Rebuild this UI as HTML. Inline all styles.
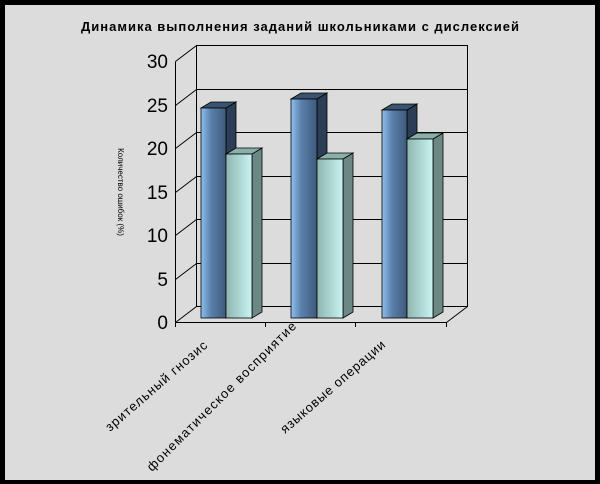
<!DOCTYPE html>
<html><head><meta charset="utf-8"><style>
html,body{margin:0;padding:0;background:#000;}
svg{display:block;}
text{font-family:"Liberation Sans","DejaVu Sans",sans-serif;}
</style></head><body>
<svg width="600" height="484" viewBox="0 0 600 484" xmlns="http://www.w3.org/2000/svg">
<defs>
<linearGradient id="dk" x1="0" y1="0" x2="1" y2="0">
<stop offset="0" stop-color="#8fc0f0"/><stop offset="0.4" stop-color="#5a80aa"/><stop offset="1" stop-color="#3d5a7c"/>
</linearGradient>
<linearGradient id="lt" x1="0" y1="0" x2="1" y2="0">
<stop offset="0" stop-color="#8fb5b0"/><stop offset="1" stop-color="#c8f4f2"/>
</linearGradient>
</defs>
<rect x="5" y="5" width="590" height="475" fill="#dcdcdc"/>
<text x="300" y="31" font-size="13" font-weight="bold" text-anchor="middle" textLength="438" lengthAdjust="spacing">Динамика выполнения заданий школьниками с дислексией</text>
<g stroke="#000" stroke-width="1" fill="none">
<rect x="196.5" y="45.5" width="271" height="261"/>
<line x1="196.5" y1="89.5" x2="467.5" y2="89.5"/>
<line x1="196.5" y1="132.5" x2="467.5" y2="132.5"/>
<line x1="196.5" y1="176.5" x2="467.5" y2="176.5"/>
<line x1="196.5" y1="219.5" x2="467.5" y2="219.5"/>
<line x1="196.5" y1="263.5" x2="467.5" y2="263.5"/>
<line x1="175.5" y1="61.5" x2="196.5" y2="45.5"/>
<line x1="175.5" y1="105.5" x2="196.5" y2="89.5"/>
<line x1="175.5" y1="148.5" x2="196.5" y2="132.5"/>
<line x1="175.5" y1="192.5" x2="196.5" y2="176.5"/>
<line x1="175.5" y1="235.5" x2="196.5" y2="219.5"/>
<line x1="175.5" y1="279.5" x2="196.5" y2="263.5"/>
<line x1="175.5" y1="322.5" x2="196.5" y2="306.5"/>
<line x1="446.5" y1="322.5" x2="467.5" y2="306.5"/>
<line x1="175.5" y1="61.5" x2="175.5" y2="322.5"/>
<line x1="175.5" y1="322.5" x2="446.5" y2="322.5"/>
<line x1="175.5" y1="322.5" x2="175.5" y2="327"/>
<line x1="265.5" y1="322.5" x2="265.5" y2="327"/>
<line x1="355.5" y1="322.5" x2="355.5" y2="327"/>
<line x1="446.5" y1="322.5" x2="446.5" y2="327"/>
</g>
<g font-size="19" text-anchor="end">
<text x="168" y="68">30</text><text x="168" y="112">25</text><text x="168" y="155">20</text>
<text x="168" y="199">15</text><text x="168" y="242">10</text><text x="168" y="286">5</text><text x="168" y="329">0</text>
</g>
<text transform="translate(118,192) rotate(90)" font-size="8" text-anchor="middle">Количество ошибок (%)</text>
<g stroke="#000" stroke-width="0.8">
<polygon points="226,108 236,102 236,312 226,318" fill="#2c3e55"/>
<polygon points="201,108 211,102 236,102 226,108" fill="#3a5370"/>
<rect x="201" y="108" width="25" height="210" fill="url(#dk)"/>
<polygon points="252,154 262,148 262,312 252,318" fill="#6c8884"/>
<polygon points="226,154 236,148 262,148 252,154" fill="#8ab0ac"/>
<rect x="226" y="154" width="26" height="164" fill="url(#lt)"/>
<polygon points="317,99 327,93 327,312 317,318" fill="#2c3e55"/>
<polygon points="291,99 301,93 327,93 317,99" fill="#3a5370"/>
<rect x="291" y="99" width="26" height="219" fill="url(#dk)"/>
<polygon points="343,159 353,153 353,312 343,318" fill="#6c8884"/>
<polygon points="317,159 327,153 353,153 343,159" fill="#8ab0ac"/>
<rect x="317" y="159" width="26" height="159" fill="url(#lt)"/>
<polygon points="407,110 417,104 417,312 407,318" fill="#2c3e55"/>
<polygon points="382,110 392,104 417,104 407,110" fill="#3a5370"/>
<rect x="382" y="110" width="25" height="208" fill="url(#dk)"/>
<polygon points="433,139 443,133 443,312 433,318" fill="#6c8884"/>
<polygon points="407,139 417,133 443,133 433,139" fill="#8ab0ac"/>
<rect x="407" y="139" width="26" height="179" fill="url(#lt)"/>
</g>
<g font-size="13">
<text transform="translate(110,432) rotate(-41)" textLength="130" lengthAdjust="spacing">зрительный гнозис</text>
<text transform="translate(152,472) rotate(-45)" textLength="205" lengthAdjust="spacing">фонематическое восприятие</text>
<text transform="translate(285,434) rotate(-41)" textLength="134" lengthAdjust="spacing">языковые операции</text>
</g>
</svg>
</body></html>
